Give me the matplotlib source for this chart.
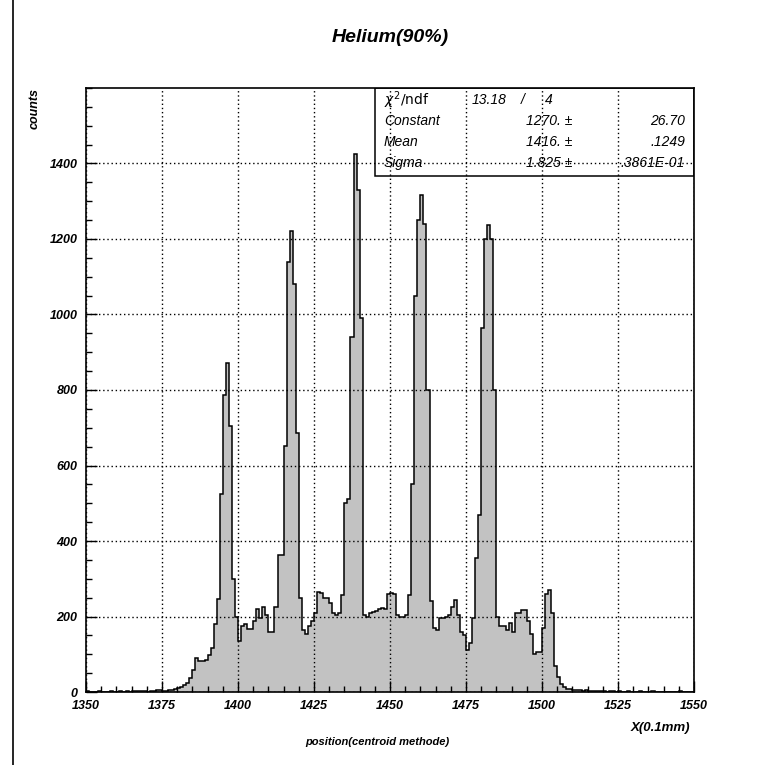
import numpy as np
import matplotlib
matplotlib.use("Agg")
import matplotlib.pyplot as plt
from matplotlib.patches import Rectangle

plt.rcParams['font.family'] = ['Liberation Sans', 'DejaVu Sans']

# histogram: 1 bin per 0.1 mm, starting at 1350
x_start = 1350
bin_width = 1
counts = [
    2, 0, 1, 0, 2, 1, 0, 1, 2, 0,                       # 1350
    1, 3, 1, 2, 1, 2, 4, 3, 2, 3,                       # 1360
    1, 4, 3, 5, 6, 3, 4, 5, 6, 8,                       # 1370
    10, 12, 19, 25, 37, 59, 89, 81, 81, 85,             # 1380
    98, 116, 180, 247, 524, 787, 871, 705, 300, 200,    # 1390
    134, 174, 179, 166, 166, 187, 221, 195, 224, 205,   # 1400
    160, 160, 226, 363, 363, 652, 1140, 1220, 1080, 687,  # 1410
    250, 165, 153, 174, 187, 208, 265, 262, 250, 250,   # 1420
    235, 210, 205, 210, 258, 500, 510, 940, 1425, 1330,  # 1430
    990, 205, 200, 210, 212, 215, 220, 222, 220, 260,   # 1440
    262, 260, 205, 200, 200, 205, 258, 551, 1049, 1250,  # 1450
    1317, 1240, 800, 240, 170, 165, 195, 195, 200, 205,  # 1460
    225, 245, 205, 160, 150, 110, 130, 195, 355, 470,   # 1470
    965, 1200, 1238, 1200, 800, 200, 175, 175, 165, 182,  # 1480
    160, 210, 210, 218, 218, 187, 155, 100, 105, 105,   # 1490
    170, 260, 270, 210, 70, 40, 22, 12, 8, 7,           # 1500
    6, 5, 6, 4, 5, 3, 4, 2, 3, 2,                       # 1510
    3, 1, 2, 2, 1, 3, 1, 0, 2, 1,                       # 1520
    1, 0, 2, 1, 0, 1, 2, 0, 1, 0,                       # 1530
    1, 0, 0, 1, 0, 2, 0, 1, 0, 1,                       # 1540
]
edges = x_start + bin_width * np.arange(len(counts) + 1)

x_ticks = [1350, 1375, 1400, 1425, 1450, 1475, 1500, 1525, 1550]
y_ticks = [0, 200, 400, 600, 800, 1000, 1200, 1400]

stat_labels = [r'$\chi^{2}$/ndf', 'Constant', 'Mean', 'Sigma']
stat_values = ['1270. \u00b1', '1416. \u00b1', '1.825 \u00b1']
stat_errors = ['26.70', '.1249', '.3861E-01']

tick_font = dict(family=['Liberation Sans', 'DejaVu Sans'], weight='bold', style='italic', size=9)

fig = plt.figure(figsize=(7.61, 7.65), dpi=100)
ax = fig.add_axes([0.113, 0.0954, 0.799, 0.7896])

ax.stairs(counts, edges, fill=True, color='#c2c2c2', zorder=1)
ax.stairs(counts, edges, color='black', lw=1.1, zorder=2)

ax.set_xlim(1350, 1550)
ax.set_ylim(0, 1600)
ax.set_xticks(x_ticks)
ax.set_yticks(y_ticks)
ax.set_xticks(np.arange(1350, 1551, 5), minor=True)
ax.set_yticks(np.arange(0, 1601, 50), minor=True)
ax.set_xticklabels([str(t) for t in x_ticks], fontdict=tick_font)
ax.set_yticklabels([str(t) for t in y_ticks], fontdict=tick_font)
ax.tick_params(which='both', direction='in', top=False, right=False, width=1.0)
ax.tick_params(which='major', length=8, pad=6)
ax.tick_params(which='minor', length=4)
ax.grid(True, which='major', color='black', ls=(0, (1, 2)), lw=1.0)
ax.set_axisbelow(False)
for s in ax.spines.values():
    s.set_linewidth(1.2)

# stats box
box = Rectangle((1445, 1368), 105, 232, facecolor='white', edgecolor='black', lw=1.1, zorder=2.2)
ax.add_patch(box)
row_y = [1568, 1512, 1457, 1402]
stat_font = dict(family=['Liberation Sans', 'DejaVu Sans'], style='italic', size=10, zorder=4, va='center')
ax.text(1448, row_y[0], stat_labels[0], family=['DejaVu Sans'], size=10, va='center', zorder=4)
for lab, y in zip(stat_labels[1:], row_y[1:]):
    ax.text(1448, y, lab, ha='left', **stat_font)
ax.text(1477, row_y[0], '13.18', ha='left', **stat_font)
ax.text(1493.5, row_y[0], '/', ha='center', **stat_font)
ax.text(1501, row_y[0], '4', ha='left', **stat_font)
for val, err, y in zip(stat_values, stat_errors, row_y[1:]):
    ax.text(1510, y, val, ha='right', **stat_font)
    ax.text(1547, y, err, ha='right', **stat_font)

fig.text(390 / 761, 1 - 37 / 765, 'Helium(90%)', ha='center', va='center',
         size=14, weight='bold', style='italic')
fig.text(35 / 761, 1 - 88 / 765, 'counts', rotation=90, ha='center', va='top',
         size=9, weight='bold', style='italic')
fig.text(690 / 761, 1 - 728 / 765, 'X(0.1mm)', ha='right', va='center',
         size=9.5, weight='bold', style='italic')
fig.text(377 / 761, 1 - 742 / 765, 'position(centroid methode)', ha='center', va='center',
         size=8, weight='bold', style='italic')

# page frame line on the left
fig.add_artist(plt.Line2D([13 / 761, 13 / 761], [0, 1], transform=fig.transFigure, color='black', lw=1.2))

fig.savefig('out.png', dpi=100)
